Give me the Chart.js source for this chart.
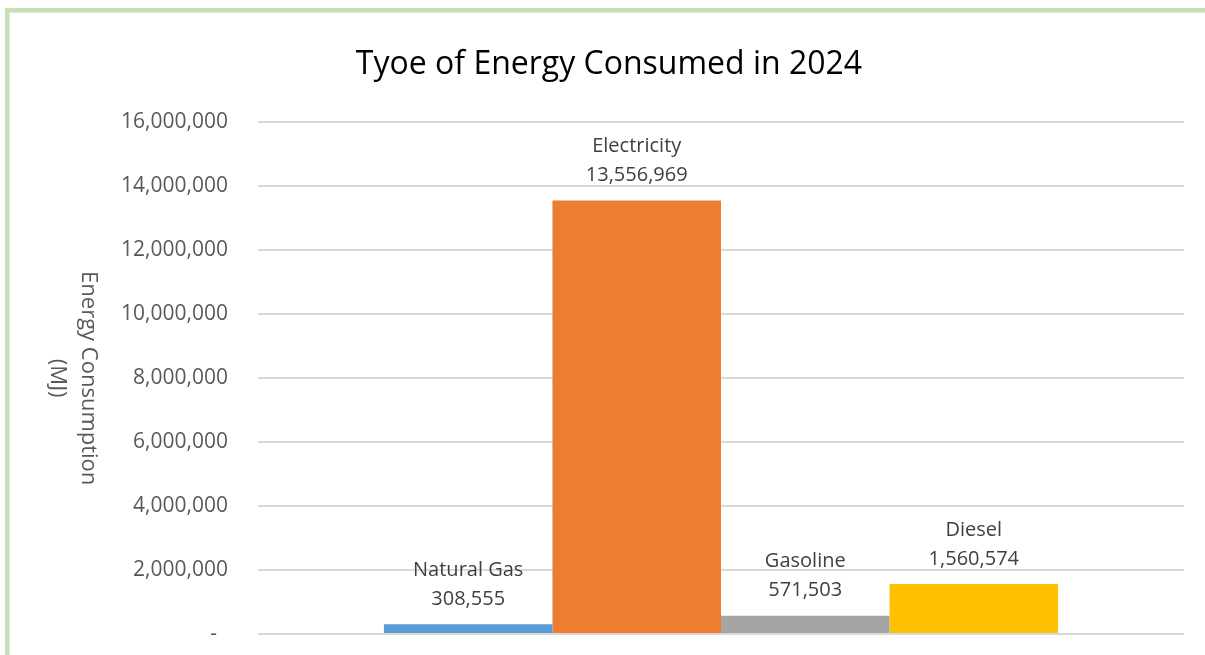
<!DOCTYPE html>
<html>
<head>
<meta charset="utf-8">
<script src="https://cdn.jsdelivr.net/npm/chart.js@4"></script>
<style>
  html, body { margin: 0; padding: 0; background: #fff; }
  .frame {
    position: absolute; left: 5px; top: 8px; width: 1200px; height: 647px;
    border-top: 4px solid #c5e0b4; border-left: 4px solid #c5e0b4;
    box-sizing: border-box;
  }
  .inner {
    position: absolute; left: 0; top: 0; right: 0; bottom: 0;
    border-top: 1px solid #e3e3e3; border-left: 1px solid #e3e3e3;
  }
  #wrap { position: absolute; left: 0; top: 0; width: 1195px; height: 642px; }
</style>
</head>
<body>
<div class="frame"><div class="inner"><div id="wrap"><canvas id="chart"></canvas></div></div></div>
<script>
const categories = ["2024"];
const seriesNames = ["Natural Gas", "Electricity", "Gasoline", "Diesel"];
const seriesValues = [308555, 13556969, 571503, 1560574];
const seriesColors = ["#5b9bd5", "#ed7d31", "#a5a5a5", "#ffc000"];
const yTicks = [0, 2000000, 4000000, 6000000, 8000000, 10000000, 12000000, 14000000, 16000000];
const yTitle = ["Energy Consumption", "(MJ)"];

const FONT = "'Open Sans', 'Noto Sans', sans-serif";

// labels above each bar: series name + value
const barLabels = {
  id: "barLabels",
  afterDatasetsDraw(chart) {
    const ctx = chart.ctx;
    ctx.save();
    ctx.font = "20px " + FONT;
    ctx.fillStyle = "#404040";
    ctx.textAlign = "center";
    ctx.textBaseline = "middle";
    chart.data.datasets.forEach((ds, i) => {
      const bar = chart.getDatasetMeta(i).data[0];
      ctx.fillText(ds.label, bar.x, bar.y - 54);
      ctx.fillText(ds.data[0].toLocaleString("en-US"), bar.x, bar.y - 25);
    });
    ctx.restore();
  }
};

// y axis title, rotated clockwise like the original
const yAxisTitle = {
  id: "yAxisTitle",
  afterDraw(chart) {
    const ctx = chart.ctx;
    const area = chart.chartArea;
    ctx.save();
    ctx.translate(78, (area.top + area.bottom) / 2);
    ctx.rotate(Math.PI / 2);
    ctx.font = "22px " + FONT;
    ctx.fillStyle = "#595959";
    ctx.textAlign = "center";
    ctx.textBaseline = "middle";
    ctx.fillText(yTitle[0], 0, 0);
    ctx.fillText(yTitle[1], 0, 31);
    ctx.restore();
  }
};

new Chart(document.getElementById("chart"), {
  type: "bar",
  data: {
    labels: categories,
    datasets: seriesNames.map((name, i) => ({
      label: name,
      data: [seriesValues[i]],
      backgroundColor: seriesColors[i],
      borderWidth: 0,
    })),
  },
  options: {
    responsive: true,
    maintainAspectRatio: false,
    animation: false,
    categoryPercentage: 0.728,
    barPercentage: 1,
    layout: { padding: { left: 24, right: 21, top: 0, bottom: 21 } },
    scales: {
      x: { display: false },
      y: {
        min: 0,
        max: 16000000,
        afterFit: (scale) => {
          scale.width = 224;
          scale.paddingTop = 0;
          scale.paddingBottom = 0;
        },
        afterBuildTicks: (scale) => { scale.ticks = yTicks.map((v) => ({ value: v })); },
        border: { display: false },
        grid: { color: "#d9d9d9", lineWidth: 2, drawTicks: false },
        ticks: {
          padding: 30,
          color: "#595959",
          font: { family: FONT, size: 21 },
          callback: (v) => (v === 0 ? "-  " : v.toLocaleString("en-US")),
        },
      },
    },
    plugins: {
      legend: { display: false },
      tooltip: { enabled: false },
      title: {
        display: true,
        text: "Tyoe of Energy Consumed in 2024",
        color: "#000000",
        font: { family: FONT, size: 32, weight: "normal" },
        padding: { top: 33, bottom: 38 },
      },
    },
  },
  plugins: [barLabels, yAxisTitle],
});
</script>
</body>
</html>
